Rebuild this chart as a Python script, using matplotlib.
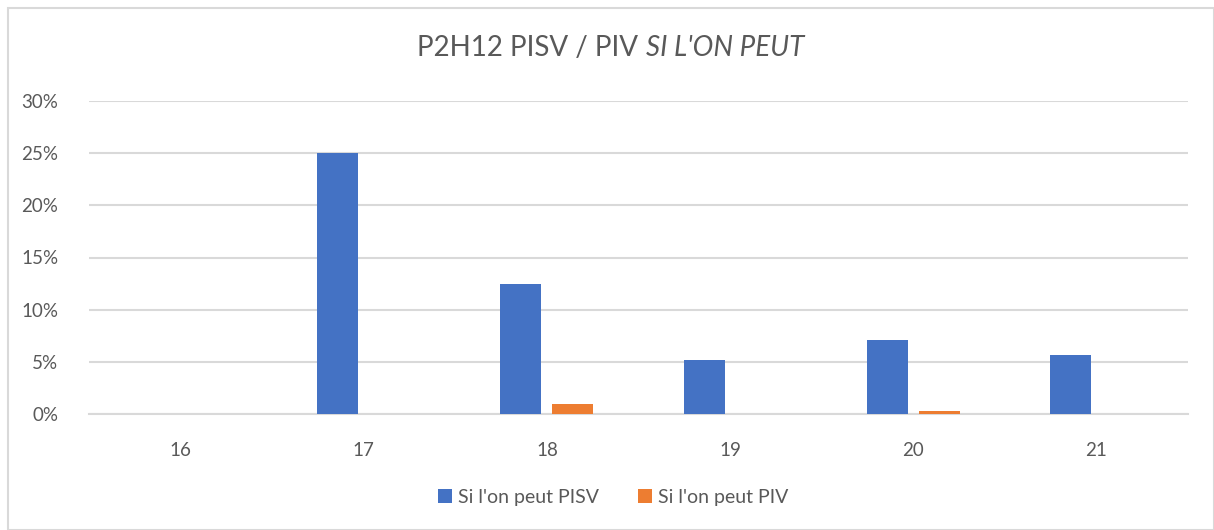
import matplotlib
matplotlib.use("Agg")
import matplotlib.pyplot as plt
import numpy as np
from matplotlib.patches import Rectangle
from matplotlib.ticker import FuncFormatter

categories = ["16", "17", "18", "19", "20", "21"]
pisv = [0.0, 0.25, 0.125, 0.052, 0.071, 0.057]
piv = [0.0, 0.0, 0.0096, 0.0, 0.003, 0.0]
series_names = ["Si l'on peut PISV", "Si l'on peut PIV"]
yticks = [0, 0.05, 0.10, 0.15, 0.20, 0.25, 0.30]

plt.rcParams['font.family'] = ['Lato', 'DejaVu Sans']
txt = '#595959'
grid = '#d9d9d9'

fig = plt.figure(figsize=(12.14, 5.30), dpi=100)
fig.patches.append(Rectangle((8/1214, 0), 1 - 8/1214, 1 - 8/530, transform=fig.transFigure,
                             fill=False, edgecolor='#d9d9d9', linewidth=1.5))
ax = fig.add_axes([89/1214, (530-414)/530, (1188-89)/1214, (414-101)/530])

x = np.arange(len(categories))
w = 0.224
off = 0.142
ax.bar(x - off, pisv, w, color='#4472c4', label=series_names[0], zorder=3)
ax.bar(x + off, piv, w, color='#ed7d31', label=series_names[1], zorder=3)

ax.set_xlim(-0.5, len(categories) - 0.5)
ax.set_ylim(0, 0.30)
ax.set_yticks(yticks)
ax.yaxis.set_major_formatter(FuncFormatter(lambda v, p: f"{v*100:.0f}%"))
ax.set_xticks(x)
ax.set_xticklabels(categories)
ax.grid(axis='y', color=grid, linewidth=1.5, zorder=0)
for s in ['top', 'right', 'left']:
    ax.spines[s].set_visible(False)
ax.spines['bottom'].set_color(grid)
ax.spines['bottom'].set_linewidth(1.5)
ax.tick_params(axis='both', length=0, labelsize=13.5, colors=txt)
ax.tick_params(axis='y', pad=22)
ax.tick_params(axis='x', pad=20)

fs_title = 20
t1 = fig.text(0, 0, "P2H12 PISV / PIV ", fontsize=fs_title, color=txt)
t2 = fig.text(0, 0, "SI L'ON PEUT", fontsize=fs_title, color=txt, style='italic')
fig.canvas.draw()
r = fig.canvas.get_renderer()
w1 = t1.get_window_extent(r).width
w2 = t2.get_window_extent(r).width
start = (1214 * 0.503 - (w1 + w2) / 2)
y_t = 1 - 48/530
t1.set_position((start / 1214, y_t)); t1.set_va('center')
t2.set_position(((start + w1) / 1214, y_t)); t2.set_va('center')

fig.legend(loc='center', bbox_to_anchor=(0.505, 1 - 497/530), ncol=2, frameon=False,
           fontsize=14, labelcolor=txt, handlelength=0.75, handleheight=0.75,
           handletextpad=0.3, columnspacing=2.0)

fig.savefig("out.png", dpi=100)
